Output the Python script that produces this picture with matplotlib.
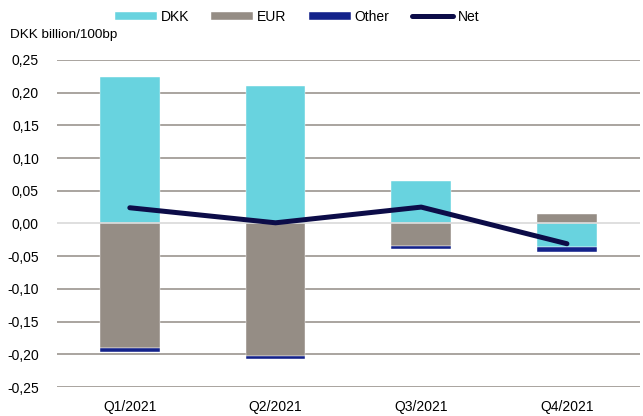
import matplotlib
matplotlib.use("Agg")
import matplotlib.pyplot as plt
import numpy as np
from matplotlib.ticker import FixedLocator, FuncFormatter

plt.rcParams['font.family'] = ['Liberation Sans', 'DejaVu Sans']

quarters = ["Q1/2021", "Q2/2021", "Q3/2021", "Q4/2021"]
dkk = [0.224, 0.210, 0.065, -0.036]
eur = [-0.190, -0.202, -0.034, 0.014]
other = [-0.007, -0.005, -0.005, -0.007]
net = [0.024, 0.001, 0.025, -0.031]
yticks = [-0.25, -0.20, -0.15, -0.10, -0.05, 0.0, 0.05, 0.10, 0.15, 0.20, 0.25]

colors = {"DKK": "#68d3df", "EUR": "#958d85", "Other": "#13228a"}
net_color = "#0c0c48"

fig = plt.figure(figsize=(6.43, 4.16), dpi=100)
ax = fig.add_axes([0.0886, 0.0697, 0.9064, 0.7863])

x = np.arange(len(quarters))
pos_bottom = np.zeros(len(x))
neg_bottom = np.zeros(len(x))
handles = []
for name, vals in [("DKK", dkk), ("EUR", eur), ("Other", other)]:
    vals = np.array(vals)
    bottoms = np.where(vals >= 0, pos_bottom, neg_bottom)
    b = ax.bar(x, vals, bottom=bottoms, width=0.41, color=colors[name], label=name, zorder=2,
               edgecolor="white", linewidth=0.3)
    handles.append(b)
    pos_bottom += np.where(vals >= 0, vals, 0)
    neg_bottom += np.where(vals < 0, vals, 0)

ln, = ax.plot(x, net, color=net_color, linewidth=3.6, label="Net", zorder=4, solid_capstyle="round")
handles.append(ln)

for t in yticks:
    if t == 0:
        ax.axhline(t, color="#d9d9d9", linewidth=1.2, zorder=3)
    else:
        ax.axhline(t, color="#9b958f", linewidth=1.2, zorder=1)

ax.set_xlim(-0.5, 3.5)
ax.set_ylim(-0.25, 0.25)
ax.yaxis.set_major_locator(FixedLocator(yticks))
ax.yaxis.set_major_formatter(FuncFormatter(lambda v, p: f"{v:.2f}".replace(".", ",").replace("-0,00", "0,00")))
ax.set_xticks(x)
ax.set_xticklabels(quarters)
ax.tick_params(axis="both", length=0, labelsize=10, colors="black")
ax.tick_params(axis="y", pad=13)
ax.tick_params(axis="x", pad=9)
for s in ax.spines.values():
    s.set_visible(False)

fig.text(0.016, 0.915, "DKK billion/100bp", fontsize=9.7, va="center", ha="left")

leg = fig.legend(handles, ["DKK", "EUR", "Other", "Net"], loc="center", bbox_to_anchor=(0.462, 0.959),
                 ncol=4, frameon=False, fontsize=10,
                 handlelength=3.0, handleheight=0.58, columnspacing=1.6, handletextpad=0.3)

fig.savefig("out.png", dpi=100)
